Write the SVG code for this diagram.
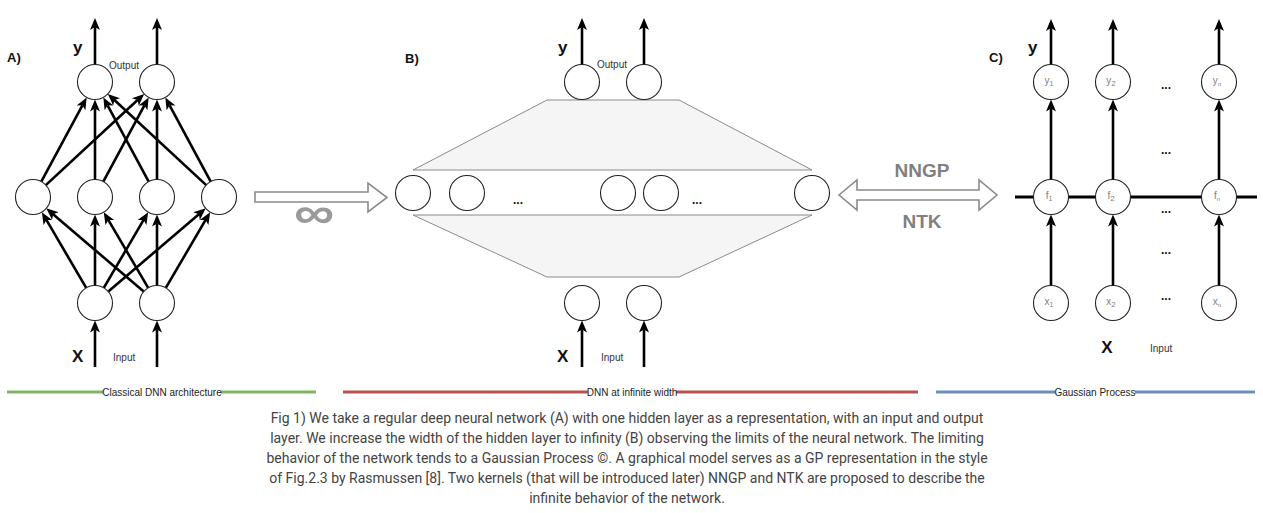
<svg xmlns="http://www.w3.org/2000/svg" width="1263" height="513" viewBox="0 0 1263 513">
<style>
  .n circle{fill:#fff;stroke:#222;stroke-width:1.1}
  .e line{stroke:#000;stroke-width:2.6;marker-end:url(#ah)}
  .trap{fill:#f5f5f5;stroke:#8a8a8a;stroke-width:1}
  .panel{font-family:"Liberation Sans",Arial,sans-serif;font-weight:bold;font-size:13px;fill:#111}
  .var{font-family:"Liberation Sans",Arial,sans-serif;font-weight:bold;font-size:17px;fill:#111}
  .small{font-family:"Liberation Sans",Arial,sans-serif;font-size:10px;fill:#333}
  .inner{font-family:"Liberation Sans",Arial,sans-serif;font-size:10px;fill:#808080}
  .dots{font-family:"Liberation Sans",Arial,sans-serif;font-weight:bold;font-size:12px;fill:#111}
  .big{font-family:"Liberation Sans",Arial,sans-serif;font-weight:bold;font-size:19px;fill:#808080}
  .hollow{fill:#fff;stroke:#8a8a8a;stroke-width:1.6}
  .sec{font-family:"Liberation Sans",Arial,sans-serif;font-size:10px;fill:#222}
  .cap{font-family:Roboto,"Liberation Sans",sans-serif;font-size:14px;fill:#444}
</style>
<defs>
  <marker id="ah" markerUnits="userSpaceOnUse" markerWidth="14" markerHeight="12" refX="3" refY="5" orient="auto">
    <path d="M0,0 L12,5 L0,10 L3,5 z" fill="#000"/>
  </marker>
</defs>
<rect width="1263" height="513" fill="#fff"/>

<!-- Panel labels -->
<text class="panel" x="7" y="62">A)</text>
<text class="panel" x="405" y="63">B)</text>
<text class="panel" x="989" y="62">C)</text>

<!-- ===== Panel B trapezoids (background) ===== -->
<polygon class="trap" points="547,100 679,100 812,170 413,170"/>
<polygon class="trap" points="413,215 812,215 679,277 547,277"/>

<!-- ===== Connectors ===== -->
<g id="connectors" class="e">
  <!-- A outputs -->
  <line x1="95" y1="64.5" x2="95" y2="27"/>
  <line x1="157" y1="64.5" x2="157" y2="27"/>
  <!-- A hidden -> output -->
  <line x1="41.3" y1="181.6" x2="82.4" y2="105.3"/>
  <line x1="45.8" y1="185.1" x2="137.6" y2="100.0"/>
  <line x1="95" y1="179.5" x2="95" y2="108.5"/>
  <line x1="103.3" y1="181.6" x2="144.4" y2="105.3"/>
  <line x1="148.7" y1="181.6" x2="107.6" y2="105.3"/>
  <line x1="157" y1="179.5" x2="157" y2="108.5"/>
  <line x1="206.2" y1="185.1" x2="114.4" y2="100.0"/>
  <line x1="210.7" y1="181.6" x2="169.6" y2="105.3"/>
  <!-- A input -> hidden -->
  <line x1="86.2" y1="287.9" x2="46.4" y2="219.9"/>
  <line x1="95" y1="285.5" x2="95" y2="223.5"/>
  <line x1="103.8" y1="287.9" x2="143.6" y2="219.9"/>
  <line x1="108.3" y1="291.6" x2="198.9" y2="214.2"/>
  <line x1="143.7" y1="291.6" x2="53.1" y2="214.2"/>
  <line x1="148.2" y1="287.9" x2="108.3" y2="219.9"/>
  <line x1="157" y1="285.5" x2="157" y2="223.5"/>
  <line x1="165.8" y1="287.9" x2="205.6" y2="219.9"/>
  <!-- A inputs -->
  <line x1="95" y1="367" x2="95" y2="329.5"/>
  <line x1="157" y1="367" x2="157" y2="329.5"/>

  <!-- B -->
  <line x1="582" y1="64.5" x2="582" y2="27"/>
  <line x1="644" y1="64.5" x2="644" y2="27"/>
  <line x1="582" y1="367" x2="582" y2="329.5"/>
  <line x1="644" y1="367" x2="644" y2="329.5"/>

  <!-- C -->
  <line x1="1051" y1="64.5" x2="1051" y2="28"/>
  <line x1="1113" y1="64.5" x2="1113" y2="28"/>
  <line x1="1219" y1="64.5" x2="1219" y2="28"/>
  <line x1="1051" y1="179.5" x2="1051" y2="108.5"/>
  <line x1="1113" y1="179.5" x2="1113" y2="108.5"/>
  <line x1="1219" y1="179.5" x2="1219" y2="108.5"/>
  <line x1="1051" y1="285.5" x2="1051" y2="223.5"/>
  <line x1="1113" y1="285.5" x2="1113" y2="223.5"/>
  <line x1="1219" y1="285.5" x2="1219" y2="223.5"/>
  <!-- C horizontal process line -->
  <line x1="1015" y1="197" x2="1257" y2="197" style="marker-end:none;stroke-width:3"/>
</g>

<!-- ===== Panel A nodes ===== -->
<g id="A-output" class="n">
  <circle cx="95" cy="82" r="17.5"/>
  <circle cx="157" cy="82" r="17.5"/>
</g>
<g id="A-hidden" class="n">
  <circle cx="33" cy="197" r="17.5"/>
  <circle cx="95" cy="197" r="17.5"/>
  <circle cx="157" cy="197" r="17.5"/>
  <circle cx="219" cy="197" r="17.5"/>
</g>
<g id="A-input" class="n">
  <circle cx="95" cy="303" r="17.5"/>
  <circle cx="157" cy="303" r="17.5"/>
</g>
<g id="A-labels">
  <text class="var" x="73" y="53">y</text>
  <text class="small" x="109" y="69">Output</text>
  <text class="var" x="72" y="362">X</text>
  <text class="small" x="113" y="361">Input</text>
</g>

<!-- ∞ arrow -->
<g id="infinity-arrow">
  <polygon class="hollow" points="255,192 368,192 368,183 387,197.5 368,212 368,202 255,202"/>
  <text transform="translate(314,228) scale(1.35,1.05)" x="0" y="0" text-anchor="middle" style="font-family:'Liberation Sans',Arial,sans-serif;font-weight:bold;font-size:42px;fill:#9a9a9a">∞</text>
</g>

<!-- ===== Panel B nodes ===== -->
<g id="B-output" class="n">
  <circle cx="582" cy="82" r="17.5"/>
  <circle cx="644" cy="82" r="17.5"/>
</g>
<g id="B-hidden" class="n">
  <circle cx="413" cy="193" r="17.5"/>
  <circle cx="467" cy="193" r="17.5"/>
  <circle cx="618" cy="193" r="17.5"/>
  <circle cx="661" cy="193" r="17.5"/>
  <circle cx="812" cy="193" r="17.5"/>
</g>
<g id="B-input" class="n">
  <circle cx="582" cy="303" r="17.5"/>
  <circle cx="644" cy="303" r="17.5"/>
</g>
<g id="B-labels">
  <text class="var" x="558" y="53">y</text>
  <text class="small" x="597" y="68">Output</text>
  <text class="dots" x="518" y="204" text-anchor="middle">...</text>
  <text class="dots" x="697" y="204" text-anchor="middle">...</text>
  <text class="var" x="557" y="362">X</text>
  <text class="small" x="601" y="361">Input</text>
</g>

<!-- NNGP / NTK double arrow -->
<g id="kernel-arrow">
  <polygon class="hollow" points="839,195 857,180 857,190 979,190 979,180 997,195 979,210 979,200 857,200 857,210"/>
  <text class="big" x="922" y="176.5" text-anchor="middle">NNGP</text>
  <text class="big" x="922" y="227.5" text-anchor="middle">NTK</text>
</g>

<!-- ===== Panel C nodes ===== -->
<g id="C-y" class="n">
  <circle cx="1051" cy="82" r="17.5"/>
  <circle cx="1113" cy="82" r="17.5"/>
  <circle cx="1219" cy="82" r="17.5"/>
  <text class="inner" x="1049" y="84" text-anchor="middle">y<tspan font-size="7" dy="2">1</tspan></text>
  <text class="inner" x="1111" y="84" text-anchor="middle">y<tspan font-size="8" dy="2">2</tspan></text>
  <text class="inner" x="1217" y="84" text-anchor="middle">y<tspan font-size="6" dy="2">n</tspan></text>
</g>
<g id="C-f" class="n">
  <circle cx="1051" cy="197" r="17.5"/>
  <circle cx="1113" cy="197" r="17.5"/>
  <circle cx="1219" cy="197" r="17.5"/>
  <text class="inner" x="1049" y="199" text-anchor="middle">f<tspan font-size="7" dy="2">1</tspan></text>
  <text class="inner" x="1111" y="199" text-anchor="middle">f<tspan font-size="8" dy="2">2</tspan></text>
  <text class="inner" x="1217" y="199" text-anchor="middle">f<tspan font-size="6" dy="2">n</tspan></text>
</g>
<g id="C-x" class="n">
  <circle cx="1051" cy="303" r="17.5"/>
  <circle cx="1113" cy="303" r="17.5"/>
  <circle cx="1219" cy="303" r="17.5"/>
  <text class="inner" x="1049" y="305" text-anchor="middle">x<tspan font-size="7" dy="2">1</tspan></text>
  <text class="inner" x="1111" y="305" text-anchor="middle">x<tspan font-size="8" dy="2">2</tspan></text>
  <text class="inner" x="1217" y="305" text-anchor="middle">x<tspan font-size="6" dy="2">n</tspan></text>
</g>
<g id="C-labels">
  <text class="var" x="1028" y="53">y</text>
  <text class="dots" x="1166" y="89" text-anchor="middle">...</text>
  <text class="dots" x="1166" y="154" text-anchor="middle">...</text>
  <text class="dots" x="1166" y="213" text-anchor="middle">...</text>
  <text class="dots" x="1166" y="254" text-anchor="middle">...</text>
  <text class="dots" x="1166" y="300" text-anchor="middle">...</text>
  <text class="var" x="1107" y="353" text-anchor="middle">X</text>
  <text class="small" x="1150" y="352">Input</text>
</g>

<!-- ===== Section lines ===== -->
<g id="sections">
  <line x1="7" y1="392" x2="103" y2="392" stroke="#82b366" stroke-width="3"/>
  <line x1="221" y1="392" x2="316" y2="392" stroke="#82b366" stroke-width="3"/>
  <text class="sec" x="162" y="395.5" text-anchor="middle">Classical DNN architecture</text>
  <line x1="343" y1="392" x2="588" y2="392" stroke="#b85450" stroke-width="3"/>
  <line x1="676" y1="392" x2="918" y2="392" stroke="#b85450" stroke-width="3"/>
  <text class="sec" x="632" y="395.5" text-anchor="middle">DNN at infinite width</text>
  <line x1="936" y1="392" x2="1055" y2="392" stroke="#6c8ebf" stroke-width="3"/>
  <line x1="1135" y1="392" x2="1255" y2="392" stroke="#6c8ebf" stroke-width="3"/>
  <text class="sec" x="1095" y="395.5" text-anchor="middle">Gaussian Process</text>
</g>

<!-- ===== Caption ===== -->
<g id="caption" class="cap" text-anchor="middle">
  <text x="627" y="423">Fig 1) We take a regular deep neural network (A) with one hidden layer as a representation, with an input and output</text>
  <text x="627" y="443">layer. We increase the width of the hidden layer to infinity (B) observing the limits of the neural network. The limiting</text>
  <text x="627" y="463">behavior of the network tends to a Gaussian Process ©. A graphical model serves as a GP representation in the style</text>
  <text x="627" y="483">of Fig.2.3 by Rasmussen [8]. Two kernels (that will be introduced later) NNGP and NTK are proposed to describe the</text>
  <text x="627" y="503">infinite behavior of the network.</text>
</g>
</svg>
